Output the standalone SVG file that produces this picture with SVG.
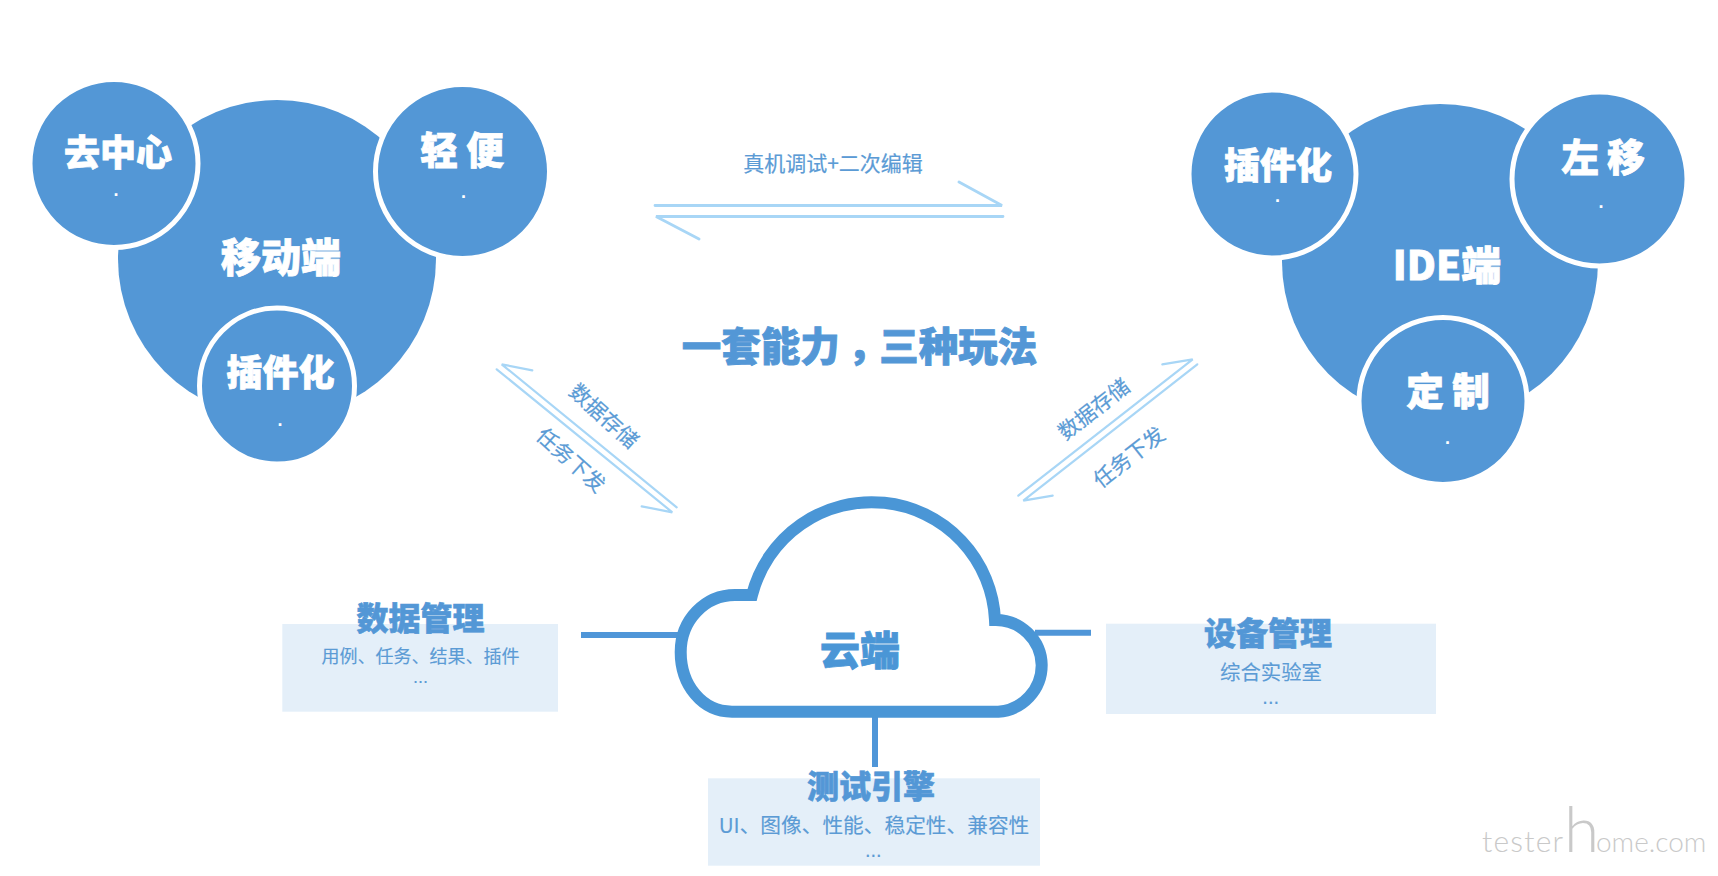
<svg xmlns="http://www.w3.org/2000/svg" width="1718" height="876" viewBox="0 0 1718 876">
<style>
text{font-family:"Liberation Sans","Noto Sans CJK SC",sans-serif;text-anchor:middle;dominant-baseline:central}
.c{font-family:"Noto Sans CJK SC","Liberation Sans",sans-serif}
.blob{fill:#5397D6}
.sat{fill:#5397D6;stroke:#fff;stroke-width:5}
.w{fill:#fff;font-weight:900;stroke:#fff;stroke-width:.8}
.dot{fill:#fff;font-size:18px;font-weight:700}
.arr{fill:none;stroke:#A8D6F6;stroke-width:2.8;stroke-linecap:round;stroke-linejoin:miter}
.arr2{fill:none;stroke:#A8D6F6;stroke-width:2.2;stroke-linecap:round}
.bar{fill:none;stroke:#4F96D8;stroke-width:6}
.lab{fill:#5B9BD5;font-size:21px;stroke:#5B9BD5;stroke-width:.2}
.box{fill:#E4EFF9}
.h{fill:#5397D6;font-weight:900;font-size:32px;stroke:#5397D6;stroke-width:.6}
.sub{fill:#5B9BD5;stroke:#5B9BD5;stroke-width:.15}
</style>
<rect width="1718" height="876" fill="#fff"/>
<g id="connectors">
<path class="arr" d="M655 205.5H1002L959 182"/>
<path class="arr" d="M1003 216.5H656L699 239"/>
<path class="arr2" d="M676.7 507.3L501.7 364.3L532.3 370.3"/>
<path class="arr2" d="M496.7 369.3L672.3 512.3L641.7 506.3"/>
<path class="arr2" d="M1018.3 495.7L1192.7 359.3L1162.3 364.3"/>
<path class="arr2" d="M1197.3 364.3L1023.3 500.7L1052.7 495.7"/>
<path class="bar" d="M581 635H682"/>
<path class="bar" d="M1035 632.7H1091"/>
<path class="bar" d="M875 710V767"/>
</g>
<g id="label-top"><text class="lab c" x="833" y="162">真机调试+二次编辑</text></g>
<g id="label-left-up"><text class="lab c" transform="translate(605 415) rotate(42)">数据存储</text></g>
<g id="label-left-down"><text class="lab c" transform="translate(572 459) rotate(42)">任务下发</text></g>
<g id="label-right-up"><text class="lab c" transform="translate(1093 408) rotate(-38)">数据存储</text></g>
<g id="label-right-down"><text class="lab c" transform="translate(1128 456) rotate(-38)">任务下发</text></g>
<g id="mobile">
<circle class="blob" cx="277" cy="259" r="159"/>
<text class="w c" x="281" y="255" font-size="40">移动端</text>
</g>
<g id="mobile-decentral">
<ellipse class="sat" cx="114" cy="163.5" rx="84" ry="84"/>
<text class="w c" x="118" y="150" font-size="36">去中心</text>
<text class="dot" x="116" y="190">.</text>
</g>
<g id="mobile-light">
<ellipse class="sat" cx="462.5" cy="171.5" rx="87" ry="87"/>
<text class="w c" x="462" y="147" font-size="37.5">轻 便</text>
<text class="dot" x="463.5" y="192">.</text>
</g>
<g id="mobile-plugin">
<ellipse class="sat" cx="277" cy="386" rx="77.5" ry="78"/>
<text class="w c" x="280.5" y="370" font-size="36">插件化</text>
<text class="dot" x="280" y="420">.</text>
</g>
<g id="ide">
<circle class="blob" cx="1440" cy="262" r="158"/>
<text class="w c" x="1447" y="263" font-size="40">IDE端</text>
</g>
<g id="ide-plugin">
<ellipse class="sat" cx="1272.5" cy="174" rx="83.5" ry="84"/>
<text class="w c" x="1278" y="163" font-size="36">插件化</text>
<text class="dot" x="1277.6" y="196">.</text>
</g>
<g id="ide-shift-left">
<ellipse class="sat" cx="1599.5" cy="179" rx="87.5" ry="87"/>
<text class="w c" x="1603" y="154" font-size="37.5">左 移</text>
<text class="dot" x="1601" y="202">.</text>
</g>
<g id="ide-custom">
<ellipse class="sat" cx="1443" cy="401" rx="84" ry="83.5"/>
<text class="w c" x="1448" y="388" font-size="37.5">定 制</text>
<text class="dot" x="1447.4" y="438">.</text>
</g>
<g id="title"><text class="c" x="859.5" y="343" font-size="39.5" font-weight="900" fill="#5397D6" stroke="#5397D6" stroke-width=".8">一套能力<tspan dy="11" style="font-family:'Noto Sans CJK TC',sans-serif">，</tspan><tspan dy="-11">三种玩法</tspan></text></g>
<g id="cloud">
<path d="M732 711.7C702 711.7 680.7 685 680.7 652C680.7 620 705 595 735 595L752 595A123.5 123.5 0 0 1 995 620A46 46 0 0 1 1041.7 665A46.7 46.7 0 0 1 998.3 711.7Z" fill="#fff" stroke="#4A96D6" stroke-width="12" stroke-linejoin="miter"/>
<text class="c" x="860" y="648" font-size="40" font-weight="900" fill="#4A96D6" stroke="#4A96D6" stroke-width=".8">云端</text>
</g>
<g id="data-mgmt">
<rect class="box" x="282.3" y="624" width="275.7" height="87.7"/>
<text class="h c" x="420.5" y="616">数据管理</text>
<text class="sub c" x="420.5" y="655" font-size="18">用例、任务、结果、插件</text>
<text class="sub" x="420.5" y="677" font-size="18">...</text>
</g>
<g id="device-mgmt">
<rect class="box" x="1106" y="623.7" width="330" height="90.3"/>
<text class="h c" x="1268" y="630.5">设备管理</text>
<text class="sub c" x="1271" y="671" font-size="20.4">综合实验室</text>
<text class="sub" x="1270.7" y="697" font-size="20">...</text>
</g>
<g id="test-engine">
<rect class="box" x="708" y="778.3" width="332" height="87.4"/>
<text class="h c" x="871" y="784">测试引擎</text>
<text class="sub c" x="874" y="823.7" font-size="20.7">UI、图像、性能、稳定性、兼容性</text>
<text class="sub" x="873.3" y="850" font-size="20">...</text>
</g>
<g id="watermark"><text x="1482" y="852" font-size="30" fill="#C9C9C9" style="font-family:'Lato','Liberation Sans',sans-serif;font-weight:300;text-anchor:start;dominant-baseline:auto;letter-spacing:1.2px">tester<tspan x="1564" font-size="64">h</tspan><tspan x="1596" font-size="28" style="letter-spacing:0">ome.com</tspan></text></g>
</svg>
